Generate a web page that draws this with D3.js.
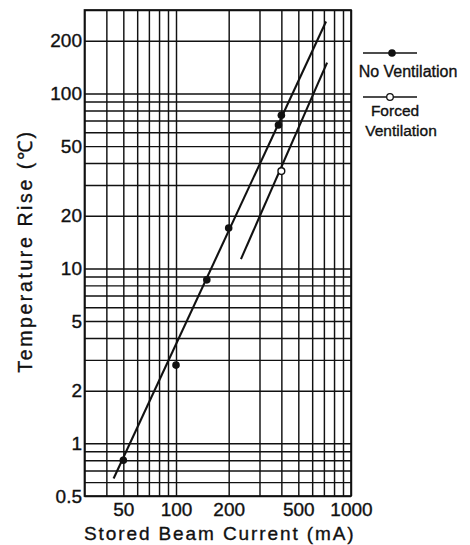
<!DOCTYPE html>
<html>
<head>
<meta charset="utf-8">
<script src="https://cdn.jsdelivr.net/npm/d3@7"></script>
<style>
  body { margin: 0; background: #fff; }
  svg text { font-family: "Liberation Sans", Arial, sans-serif; fill: #111; stroke: #111; stroke-width: 0.35; }
</style>
</head>
<body>
<svg id="chart" width="470" height="545"></svg>
<script>
// grid lines of the log-log paper
var xGridValues = [30, 40, 50, 60, 70, 80, 90, 100, 200, 300, 400, 500, 600, 700, 800, 900, 1000];
var yGridValues = [0.5, 0.6, 0.7, 0.8, 0.9, 1, 2, 3, 4, 5, 6, 7, 8, 9, 10,
                   20, 30, 40, 50, 60, 70, 80, 90, 100, 200, 300];

// tick labels
var xTickLabels = [50, 100, 200, 500, 1000];
var yTickLabels = [0.5, 1, 2, 5, 10, 20, 50, 100, 200];

// measured points (mA, deg C)
var noVentCurrent = [50, 100, 150, 200, 385, 400];
var noVentTemp = [0.8, 2.8, 8.6, 17, 66, 75];
var forcedCurrent = [400];
var forcedTemp = [36];

// drawn trend lines
var noVentLineCurrent = [44, 720];
var noVentLineTemp = [0.63, 258];
var forcedLineCurrent = [235, 730];
var forcedLineTemp = [11.3, 150];

(function(){

var plotLeft = 84.5, plotRight = 351, plotTop = 10, plotBottom = 496;

var svg = d3.select("#chart");

var x = d3.scaleLog().domain([30, 1000]).range([plotLeft, plotRight]);
var y = d3.scaleLog().domain([0.5, 300]).range([plotBottom, plotTop]);

// grid
var xGrid = d3.axisBottom(x).tickValues(xGridValues).tickSize(-(plotBottom - plotTop)).tickFormat("");
var yGrid = d3.axisLeft(y).tickValues(yGridValues).tickSize(-(plotRight - plotLeft)).tickFormat("");

svg.append("g")
  .attr("transform", "translate(0," + plotBottom + ")")
  .call(xGrid)
  .call(function(g){ g.select(".domain").remove(); })
  .selectAll("line").attr("stroke", "#111").attr("stroke-width", 1.45);

svg.append("g")
  .attr("transform", "translate(" + plotLeft + ",0)")
  .call(yGrid)
  .call(function(g){ g.select(".domain").remove(); })
  .selectAll("line").attr("stroke", "#111").attr("stroke-width", 1.45);

// frame
svg.append("rect")
  .attr("x", plotLeft).attr("y", plotTop)
  .attr("width", plotRight - plotLeft).attr("height", plotBottom - plotTop)
  .attr("fill", "none").attr("stroke", "#111").attr("stroke-width", 1.7);

// tick labels
var xAxis = d3.axisBottom(x).tickValues(xTickLabels).tickSize(0).tickPadding(7).tickFormat(d3.format("d"));
var yAxis = d3.axisLeft(y).tickValues(yTickLabels).tickSize(0).tickPadding(2.5).tickFormat(function(d){ return String(d); });

svg.append("g")
  .attr("transform", "translate(0," + plotBottom + ")")
  .call(xAxis)
  .call(function(g){ g.select(".domain").remove(); })
  .selectAll("text")
  .attr("font-size", 19).attr("font-family", "Liberation Sans, Arial, sans-serif").attr("fill", "#111");

svg.append("g")
  .attr("transform", "translate(" + plotLeft + ",0)")
  .call(yAxis)
  .call(function(g){ g.select(".domain").remove(); })
  .selectAll("text")
  .attr("font-size", 19).attr("font-family", "Liberation Sans, Arial, sans-serif").attr("fill", "#111");

// axis titles
svg.append("text")
  .attr("x", (plotLeft + plotRight) / 2 + 2).attr("y", 540)
  .attr("text-anchor", "middle")
  .attr("font-size", 19).attr("letter-spacing", 1.9)
  .text("Stored Beam Current (mA)");

svg.append("text")
  .attr("transform", "translate(32,251) rotate(-90)")
  .attr("text-anchor", "middle")
  .attr("font-size", 19.5).attr("letter-spacing", 2.6)
  .text("Temperature Rise (℃)");

// trend lines
var line = d3.line()
  .x(function(d){ return x(d[0]); })
  .y(function(d){ return y(d[1]); });

function pairs(a, b){ return a.map(function(v, i){ return [v, b[i]]; }); }

svg.append("path")
  .datum(pairs(noVentLineCurrent, noVentLineTemp))
  .attr("d", line).attr("fill", "none").attr("stroke", "#111").attr("stroke-width", 2.1);

svg.append("path")
  .datum(pairs(forcedLineCurrent, forcedLineTemp))
  .attr("d", line).attr("fill", "none").attr("stroke", "#111").attr("stroke-width", 2.1);

// points
svg.selectAll(".noVent")
  .data(pairs(noVentCurrent, noVentTemp))
  .enter().append("circle")
  .attr("cx", function(d){ return x(d[0]); })
  .attr("cy", function(d){ return y(d[1]); })
  .attr("r", 3.8).attr("fill", "#111");

svg.selectAll(".forced")
  .data(pairs(forcedCurrent, forcedTemp))
  .enter().append("circle")
  .attr("cx", function(d){ return x(d[0]); })
  .attr("cy", function(d){ return y(d[1]); })
  .attr("r", 3.4).attr("fill", "#fff").attr("stroke", "#111").attr("stroke-width", 1.4);

// legend
var legend = svg.append("g");
legend.append("line").attr("x1", 363).attr("x2", 417).attr("y1", 53).attr("y2", 53)
  .attr("stroke", "#111").attr("stroke-width", 1.4);
legend.append("circle").attr("cx", 392).attr("cy", 53).attr("r", 3.8).attr("fill", "#111");
legend.append("text").attr("x", 408).attr("y", 77).attr("text-anchor", "middle")
  .attr("font-size", 16).text("No Ventilation");

legend.append("line").attr("x1", 363).attr("x2", 417).attr("y1", 97).attr("y2", 97)
  .attr("stroke", "#111").attr("stroke-width", 1.4);
legend.append("circle").attr("cx", 390).attr("cy", 97).attr("r", 3.3)
  .attr("fill", "#fff").attr("stroke", "#111").attr("stroke-width", 1.3);
legend.append("text").attr("x", 395).attr("y", 116).attr("text-anchor", "middle")
  .attr("font-size", 15.5).text("Forced");
legend.append("text").attr("x", 401).attr("y", 136).attr("text-anchor", "middle")
  .attr("font-size", 15.5).text("Ventilation");

})();
</script>
</body>
</html>
